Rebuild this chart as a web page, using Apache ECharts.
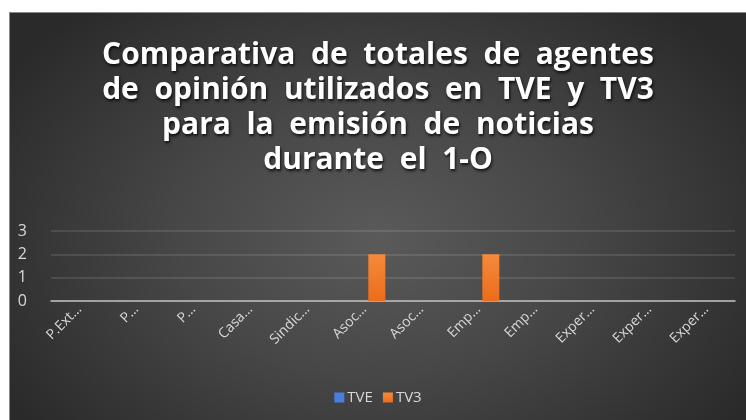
<!DOCTYPE html>
<html>
<head>
<meta charset="utf-8">
<script src="https://cdn.jsdelivr.net/npm/echarts@6/dist/echarts.min.js"></script>
<style>
  html, body { margin: 0; padding: 0; background: #fff; width: 746px; height: 420px; overflow: hidden; }
  .com-container {
    position: absolute;
    left: 9px;
    top: 12px;
    width: 737px;
    height: 408px;
    box-sizing: border-box;
    border-top: 1px solid #8a8a8a;
    border-left: 1px solid #8a8a8a;
    background: radial-gradient(ellipse 60% 75% at 50% 55%, #5a5a5a 0%, #474747 45%, #2a2a2a 100%);
  }
  #chart { width: 100%; height: 100%; }
</style>
</head>
<body>
<div class="com-container">
  <div id="chart"></div>
</div>
<script>
// categorias (etiquetas tal como aparecen truncadas)
const categories = ['P.Ext…', 'P…', 'P…', 'Casa…', 'Sindic…', 'Asoc…', 'Asoc…', 'Emp…', 'Emp…', 'Exper…', 'Exper…', 'Exper…'];
const tveValues = [0, 0, 0, 0, 0, 0, 0, 0, 0, 0, 0, 0];
const tv3Values = [0, 0, 0, 0, 0, 2, 0, 2, 0, 0, 0, 0];
const seriesNames = ['TVE', 'TV3'];
const titleLines = [
  'Comparativa  de  totales  de  agentes',
  'de  opinión  utilizados  en  TVE  y  TV3',
  'para  la  emisión  de  noticias',
  'durante  el  1-O'
];

const chartInstance = echarts.init(document.getElementById('chart'));
const labelColor = '#d9d9d9';

const option = {
  backgroundColor: 'transparent',
  title: {
    text: titleLines.join('\n'),
    left: 'center',
    top: 20,
    textStyle: {
      fontFamily: 'Open Sans',
      fontWeight: 'bold',
      fontSize: 30,
      lineHeight: 35,
      color: '#ffffff',
      textShadowColor: 'rgba(0,0,0,0.8)',
      textShadowBlur: 3,
      textShadowOffsetX: 1,
      textShadowOffsetY: 2
    }
  },
  legend: {
    bottom: 10,
    left: 'center',
    icon: 'rect',
    itemWidth: 10,
    itemHeight: 10,
    itemGap: 10,
    textStyle: { color: labelColor, fontSize: 15, fontFamily: 'Open Sans', padding: [0, 0, 0, -2] },
    data: seriesNames
  },
  grid: {
    left: 41,
    right: 11,
    top: 218,
    height: 70,
    containLabel: false
  },
  xAxis: {
    type: 'category',
    data: categories,
    axisLine: { lineStyle: { color: '#bfbfbf', width: 1.5 } },
    axisTick: { show: false },
    axisLabel: {
      rotate: 45,
      interval: 0,
      color: labelColor,
      fontSize: 14,
      fontFamily: 'Open Sans',
      margin: 6
    }
  },
  yAxis: {
    type: 'value',
    min: 0,
    max: 3,
    interval: 1,
    axisLine: { show: false },
    axisTick: { show: false },
    axisLabel: { color: labelColor, fontSize: 16, fontFamily: 'Open Sans', margin: 24 },
    splitLine: { lineStyle: { color: 'rgba(255,255,255,0.14)', width: 1.5 } }
  },
  series: [
    {
      name: seriesNames[0],
      type: 'bar',
      data: tveValues,
      barWidth: 17,
      barGap: '45%',
      itemStyle: { color: '#4a7fe0' }
    },
    {
      name: seriesNames[1],
      type: 'bar',
      data: tv3Values,
      barWidth: 17,
      barGap: '45%',
      itemStyle: {
        color: new echarts.graphic.LinearGradient(0, 0, 0, 1, [
          { offset: 0, color: '#f58a3c' },
          { offset: 1, color: '#ec6c1a' }
        ])
      }
    }
  ]
};
chartInstance.setOption(option);
</script>
</body>
</html>
